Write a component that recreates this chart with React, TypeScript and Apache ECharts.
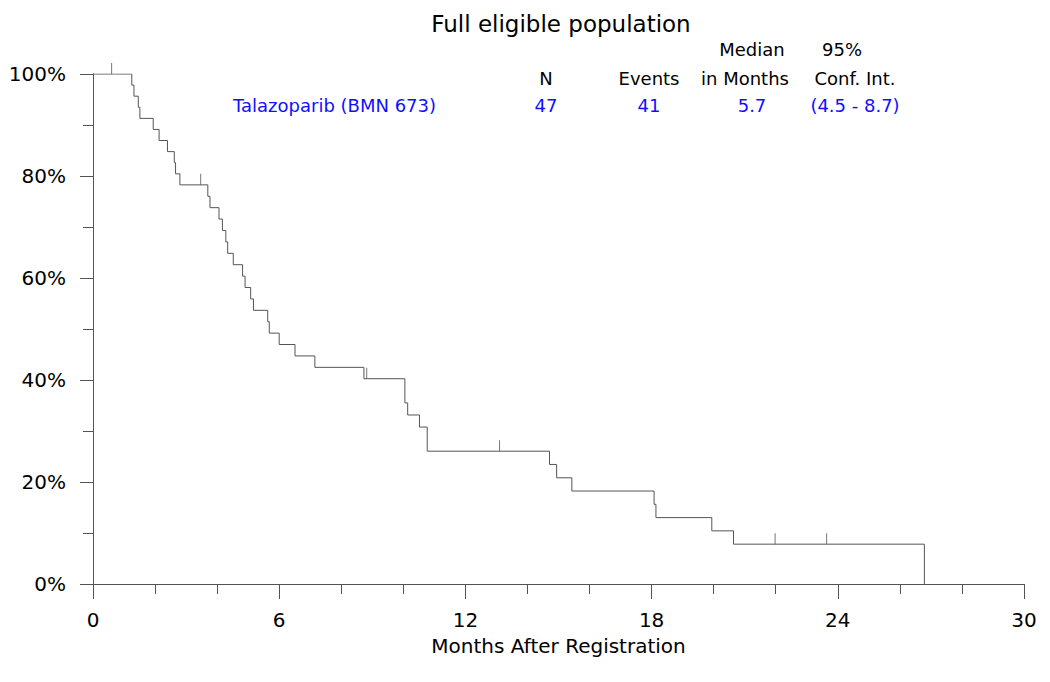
import React, { useEffect, useRef } from "react";
import * as echarts from "echarts";

const chartTitle = "Full eligible population";
const groupName = "Talazoparib (BMN 673)";
const headerTop = ["", "", "Median", "95%"];
const headerBottom = ["N", "Events", "in Months", "Conf. Int."];
const rowValues = ["47", "41", "5.7", "(4.5 - 8.7)"];

const xAxisName = "Months After Registration";
const xTickValues = [0, 6, 12, 18, 24, 30];
const yTickValues = [0, 20, 40, 60, 80, 100];

// step points: time (months) at which survival changes, and survival (%) afterwards
const stepTimes = [
  0, 1.25, 1.32, 1.46, 1.51, 1.94, 2.13, 2.4, 2.62, 2.66, 2.8,
  3.7, 3.77, 4.06, 4.17, 4.28, 4.34, 4.52, 4.82, 4.9, 5.08, 5.17, 5.63, 5.68, 6.0, 6.51, 7.15,
  8.73, 10.05, 10.14, 10.52, 10.77,
  14.71, 14.94, 15.43, 18.08, 18.14, 19.94, 20.64, 26.79,
];
const stepSurvival = [
  100, 97.83, 95.65, 93.48, 91.3, 89.13, 86.96, 84.78, 82.61, 80.43, 78.26,
  76.02, 73.79, 71.55, 69.32, 67.08, 64.84, 62.61, 60.37, 58.14, 55.9, 53.66, 51.43, 49.19, 46.96, 44.72, 42.48,
  40.25, 35.51, 33.14, 30.77, 26.04,
  23.44, 20.83, 18.23, 15.62, 13.02, 10.42, 7.81, 0,
];

const censorTimes = [0.6, 3.47, 8.82, 13.1, 21.98, 23.64];
const censorSurvival = [100, 78.26, 40.25, 26.04, 7.81, 7.81];

const FONT = "DejaVu Sans";
const LINE = "#555";
const BLUE = "#1010ff";

export default function App() {
  const ref = useRef<HTMLDivElement>(null);

  useEffect(() => {
    if (!ref.current) return;
    const chart = echarts.init(ref.current, null, { renderer: "svg" });

    const colX = [546, 649, 750, 855];
    const graphics: any[] = [
      {
        type: "text",
        x: 561,
        y: 24,
        style: { text: chartTitle, font: `23px "${FONT}"`, fill: "#000", textAlign: "center", textVerticalAlign: "middle" },
      },
      {
        type: "text",
        x: 233,
        y: 105,
        style: { text: groupName, font: `18px "${FONT}"`, fill: BLUE, textAlign: "left", textVerticalAlign: "middle" },
      },
    ];
    headerTop.forEach((t, i) => {
      if (!t) return;
      graphics.push({
        type: "text",
        x: i === 3 ? 842 : 752,
        y: 49,
        style: { text: t, font: `18px "${FONT}"`, fill: "#000", textAlign: "center", textVerticalAlign: "middle" },
      });
    });
    headerBottom.forEach((t, i) => {
      graphics.push({
        type: "text",
        x: i === 2 ? 745 : colX[i],
        y: 78,
        style: { text: t, font: `18px "${FONT}"`, fill: "#000", textAlign: "center", textVerticalAlign: "middle" },
      });
    });
    rowValues.forEach((t, i) => {
      graphics.push({
        type: "text",
        x: i === 2 ? 752 : colX[i],
        y: 105,
        style: { text: t, font: `18px "${FONT}"`, fill: BLUE, textAlign: "center", textVerticalAlign: "middle" },
      });
    });

    chart.setOption({
      animation: false,
      backgroundColor: "#fff",
      grid: { left: 93, right: 26, top: 74, bottom: 98, containLabel: false },
      xAxis: {
        type: "value",
        min: 0,
        max: 30,
        interval: 6,
        name: xAxisName,
        nameLocation: "middle",
        nameGap: 52,
        nameTextStyle: { fontFamily: FONT, fontSize: 20, color: "#000" },
        axisLine: { show: true, lineStyle: { color: LINE, width: 1 } },
        axisTick: { show: true, length: 15, lineStyle: { color: LINE, width: 1 } },
        minorTick: { show: true, splitNumber: 3, length: 10, lineStyle: { color: LINE, width: 1 } },
        axisLabel: {
          fontFamily: FONT,
          fontSize: 20,
          color: "#000",
          margin: 26,
          formatter: (v: number) => (xTickValues.includes(v) ? String(v) : ""),
        },
        splitLine: { show: false },
      },
      yAxis: {
        type: "value",
        min: 0,
        max: 100,
        interval: 20,
        axisLine: { show: true, lineStyle: { color: LINE, width: 1 } },
        axisTick: { show: true, length: 13, lineStyle: { color: LINE, width: 1 } },
        minorTick: { show: true, splitNumber: 2, length: 10, lineStyle: { color: LINE, width: 1 } },
        axisLabel: {
          fontFamily: FONT,
          fontSize: 20,
          color: "#000",
          margin: 27,
          formatter: (v: number) => (yTickValues.includes(v) ? `${v}%` : ""),
        },
        splitLine: { show: false },
      },
      graphic: graphics,
      series: [
        {
          type: "line",
          step: "end",
          data: stepTimes.map((t, i) => [t, stepSurvival[i]]),
          showSymbol: false,
          symbol: "none",
          lineStyle: { color: LINE, width: 1 },
          silent: true,
        },
        {
          type: "scatter",
          data: censorTimes.map((t, i) => [t, censorSurvival[i]]),
          symbol: "rect",
          symbolSize: [1, 11],
          symbolOffset: [0, "-50%"],
          itemStyle: { color: LINE },
          silent: true,
        },
      ],
    });

    return () => chart.dispose();
  }, []);

  return (
    <div
      ref={ref}
      style={{ position: "absolute", left: 0, top: 0, width: 1050, height: 682, background: "#fff" }}
    />
  );
}
